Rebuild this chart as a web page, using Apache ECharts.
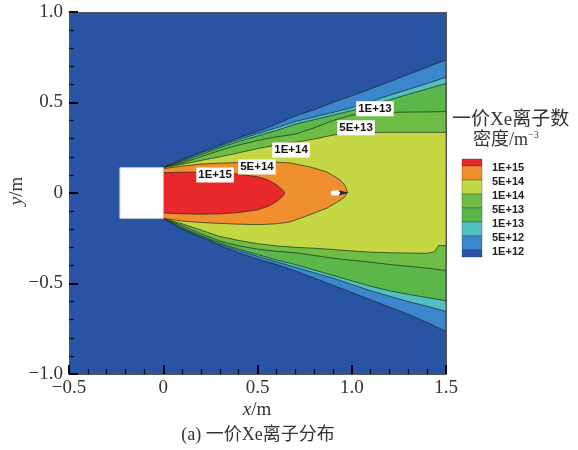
<!DOCTYPE html>
<html><head><meta charset="utf-8">
<script src="https://cdn.jsdelivr.net/npm/echarts@6/dist/echarts.min.js"></script>
<style>html,body{margin:0;padding:0;background:#fff;}#c{width:578px;height:450px;}</style>
</head><body><div id="c"></div>
<script>
// ---- axes ----
const xRange = [-0.5, 1.5];
const yRange = [-1.0, 1.0];
const tickStep = 0.5;

// ---- legend (contour levels) ----
const levelLabels = ['1E+15','5E+14','1E+14','5E+13','1E+13','5E+12','1E+12'];
const bandColors = ['#e8282a','#ef8f2e','#c3d842','#6dbd46','#5bb74a','#52c0c2','#3b86cd','#2953a3'];

// ---- contour boundaries [x (m), y (m)] ----
const outerUpper = [[0,0.14],[0.1,0.185],[0.2,0.226],[0.3,0.265],[0.4,0.305],[0.5,0.34],[0.6,0.38],[0.7,0.425],[0.8,0.46],[0.9,0.5],[1.0,0.537],[1.1,0.575],[1.2,0.615],[1.3,0.655],[1.4,0.695],[1.5,0.735]];
const lbTealUpper = [[0,0.14],[0.1,0.179],[0.2,0.22],[0.3,0.258],[0.4,0.295],[0.5,0.328],[0.6,0.36],[0.7,0.395],[0.8,0.42],[0.9,0.445],[1.0,0.472],[1.1,0.505],[1.2,0.54],[1.3,0.572],[1.4,0.605],[1.5,0.64]];
const tealGreenUpper = [[0,0.14],[0.1,0.174],[0.2,0.212],[0.3,0.25],[0.4,0.285],[0.5,0.315],[0.6,0.345],[0.7,0.38],[0.8,0.405],[0.9,0.43],[1.0,0.455],[1.1,0.485],[1.2,0.515],[1.3,0.545],[1.4,0.575],[1.5,0.605]];
const greenLineUpper = [[0,0.14],[0.1,0.166],[0.2,0.2],[0.3,0.235],[0.4,0.265],[0.5,0.29],[0.6,0.31],[0.7,0.325],[0.8,0.36],[0.9,0.4],[1.0,0.43],[1.1,0.44],[1.2,0.445],[1.3,0.447],[1.4,0.448],[1.5,0.45]];
const ygUpper = [[0,0.14],[0.1,0.158],[0.2,0.18],[0.3,0.2],[0.4,0.222],[0.5,0.245],[0.6,0.265],[0.7,0.28],[0.8,0.298],[0.9,0.32],[1.0,0.332],[1.1,0.334],[1.2,0.335],[1.3,0.335],[1.4,0.335],[1.5,0.335]];

const ygLower = [[0,-0.14],[0.1,-0.17],[0.2,-0.205],[0.3,-0.24],[0.4,-0.262],[0.5,-0.28],[0.6,-0.292],[0.7,-0.3],[0.8,-0.305],[0.9,-0.312],[1.0,-0.32],[1.1,-0.327],[1.2,-0.33],[1.3,-0.332],[1.4,-0.333],[1.44,-0.325],[1.46,-0.29],[1.5,-0.29]];
const greenLineLower = [[0,-0.14],[0.1,-0.18],[0.2,-0.225],[0.3,-0.265],[0.4,-0.292],[0.5,-0.31],[0.6,-0.322],[0.7,-0.33],[0.8,-0.345],[0.9,-0.36],[1.0,-0.372],[1.1,-0.382],[1.2,-0.395],[1.3,-0.405],[1.4,-0.415],[1.5,-0.428]];
const tealGreenLower = [[0,-0.14],[0.1,-0.19],[0.2,-0.235],[0.3,-0.275],[0.4,-0.31],[0.5,-0.34],[0.6,-0.37],[0.7,-0.395],[0.8,-0.425],[0.9,-0.455],[1.0,-0.485],[1.1,-0.515],[1.2,-0.54],[1.3,-0.56],[1.4,-0.578],[1.5,-0.595]];
const lbTealLower = [[0,-0.14],[0.1,-0.195],[0.2,-0.24],[0.3,-0.282],[0.4,-0.318],[0.5,-0.35],[0.6,-0.38],[0.7,-0.41],[0.8,-0.44],[0.9,-0.47],[1.0,-0.505],[1.1,-0.54],[1.2,-0.57],[1.3,-0.6],[1.4,-0.625],[1.5,-0.655]];
const outerLower = [[0,-0.14],[0.1,-0.2],[0.2,-0.245],[0.3,-0.29],[0.4,-0.33],[0.5,-0.365],[0.6,-0.395],[0.7,-0.43],[0.8,-0.47],[0.9,-0.51],[1.0,-0.55],[1.1,-0.59],[1.2,-0.63],[1.3,-0.67],[1.4,-0.715],[1.5,-0.765]];

const orangeOutline = [[0,0.135],[0.1,0.148],[0.2,0.16],[0.3,0.165],[0.4,0.168],[0.5,0.17],[0.6,0.17],[0.672,0.166],[0.778,0.144],[0.869,0.116],[0.938,0.072],[0.964,0.043],[0.977,0.005],[0.965,-0.02],[0.938,-0.04],[0.869,-0.083],[0.778,-0.12],[0.672,-0.16],[0.6,-0.17],[0.5,-0.175],[0.4,-0.172],[0.3,-0.168],[0.2,-0.163],[0.1,-0.155],[0,-0.14]];
const redOutline = [[0,0.112],[0.1,0.115],[0.2,0.115],[0.3,0.112],[0.4,0.104],[0.5,0.09],[0.56,0.07],[0.6,0.046],[0.63,0.02],[0.645,0],[0.63,-0.022],[0.6,-0.048],[0.56,-0.072],[0.5,-0.093],[0.4,-0.108],[0.3,-0.115],[0.2,-0.117],[0.1,-0.115],[0,-0.11]];
const spotWhite = [[0.893,0.012],[0.93,0.015],[0.94,0],[0.93,-0.015],[0.893,-0.012],[0.888,0]];
const spotDark = [[0.93,0.015],[0.95,0.01],[0.985,0.002],[0.95,-0.008],[0.93,-0.015],[0.94,0]];

const thrusterX = [-0.23, 0];
const thrusterY = [-0.14, 0.14];

// ---- contour labels ----
const contourLabelX = [0.275, 0.497, 0.678, 1.023, 1.123];
const contourLabelY = [0.10, 0.144, 0.238, 0.36, 0.465];
const contourLabelText = ['1E+15','5E+14','1E+14','5E+13','1E+13'];

// ---- build ----
const band = (up, low) => up.concat(low.slice().reverse());
const regions = [
  {pts: band(outerUpper, outerLower), color: bandColors[6]},
  {pts: band(lbTealUpper, lbTealLower), color: bandColors[5]},
  {pts: band(tealGreenUpper, tealGreenLower), color: bandColors[4]},
  {pts: band(greenLineUpper, greenLineLower), color: bandColors[3]},
  {pts: band(ygUpper, ygLower), color: bandColors[2]},
  {pts: orangeOutline, color: bandColors[1]},
  {pts: redOutline, color: bandColors[0]},
  {pts: spotWhite, color: '#ffffff', stroke: 'rgba(0,0,0,0)'},
  {pts: spotDark, color: '#1a2540', stroke: 'rgba(0,0,0,0)'}
];
const thrusterPts = [[thrusterX[0],thrusterY[1]],[thrusterX[1],thrusterY[1]],[thrusterX[1],thrusterY[0]],[thrusterX[0],thrusterY[0]]];

const series = regions.map((r, i) => ({
  type: 'custom', coordinateSystem: 'cartesian2d', silent: true, z: 2 + i * 0.01,
  data: [r.pts[0]],
  renderItem: (params, api) => ({
    type: 'polygon',
    shape: {points: r.pts.map(p => api.coord(p))},
    style: {fill: r.color, stroke: r.stroke || 'rgba(25,35,25,0.85)', lineWidth: 0.8}
  })
}));
series.push({
  type: 'custom', coordinateSystem: 'cartesian2d', silent: true, z: 3,
  data: [thrusterPts[0]],
  renderItem: (params, api) => ({
    type: 'polygon',
    shape: {points: thrusterPts.map(p => api.coord(p))},
    style: {fill: '#ffffff', stroke: '#cfcfcf', lineWidth: 1}
  })
});
series.push({
  type: 'custom', coordinateSystem: 'cartesian2d', silent: true, z: 4,
  data: contourLabelX.map((x, i) => [x, contourLabelY[i], i]),
  renderItem: (params, api) => {
    const c = api.coord([api.value(0), api.value(1)]);
    return {
      type: 'text', x: c[0], y: c[1],
      style: {
        text: contourLabelText[api.value(2)],
        fontFamily: 'Liberation Sans', fontWeight: 'bold', fontSize: 11.5, fill: '#111',
        backgroundColor: '#ffffff', padding: [2, 2, 1, 2],
        align: 'center', verticalAlign: 'middle'
      }
    };
  }
});

const fmt = v => (Math.abs(v) < 1e-9 ? '0' : (v < 0 ? '\u2212' : '') + Math.abs(v).toFixed(1));
const lblStyle = {fontFamily: 'Liberation Serif', fontSize: 19, color: '#333', formatter: fmt};
const axisBase = (extra) => Object.assign({
  type: 'value', interval: tickStep, z: 10,
  axisLine: {show: true, onZero: false, lineStyle: {color: '#555', width: 1}},
  axisTick: {show: true, inside: true, length: 9, lineStyle: {color: '#000', width: 2}},
  minorTick: {show: true, splitNumber: 5, length: 5, lineStyle: {color: '#0a0a1a', width: 1.3}},
  splitLine: {show: false}, minorSplitLine: {show: false}
}, extra);
const hiddenAxis = (extra) => Object.assign({
  type: 'value', interval: tickStep, z: 10,
  axisLine: {show: true, onZero: false, lineStyle: {color: '#555', width: 1}},
  axisTick: {show: false}, minorTick: {show: false}, axisLabel: {show: false}, splitLine: {show: false}
}, extra);

// legend graphics
const serif = "'Liberation Serif','Noto Sans CJK SC'";
const graphics = [];
const barX = 462, barW = 20, barTop = 159;
const bandH = [7,14,14,14,14,14,14,7];
let yy = barTop;
bandH.forEach((h, i) => {
  graphics.push({type: 'rect', shape: {x: barX, y: yy, width: barW, height: h},
    style: {fill: bandColors[i], stroke: 'rgba(30,40,30,0.6)', lineWidth: 0.5}});
  if (i < levelLabels.length) {
    graphics.push({type: 'text', x: 492, y: yy + h + 2,
      style: {text: levelLabels[i], fontFamily: 'Liberation Sans', fontWeight: 'bold', fontSize: 11,
        fill: '#222', textAlign: 'left', textVerticalAlign: 'middle'}});
  }
  yy += h;
});
graphics.push({type: 'text', x: 452, y: 120, style: {text: '一价Xe离子数', fontFamily: serif, fontSize: 19, fill: '#333', textAlign: 'left', textVerticalAlign: 'middle'}});
graphics.push({type: 'text', x: 473, y: 140, style: {text: '密度/m{s|−3}', fontFamily: serif, fontSize: 18, fill: '#333', textAlign: 'left', textVerticalAlign: 'middle',
  rich: {s: {fontFamily: serif, fontSize: 10, fill: '#333', verticalAlign: 'top', padding: [0,0,10,0]}}}});
graphics.push({type: 'text', x: 257, y: 410, style: {text: '{i|x}/m', fontFamily: serif, fontSize: 19, fill: '#333', textAlign: 'center', textVerticalAlign: 'middle',
  rich: {i: {fontFamily: serif, fontSize: 19, fontStyle: 'italic', fill: '#333'}}}});
graphics.push({type: 'text', x: 17, y: 191, rotation: Math.PI / 2, style: {text: '{i|y}/m', fontFamily: serif, fontSize: 19, fill: '#333', textAlign: 'center', textVerticalAlign: 'middle',
  rich: {i: {fontFamily: serif, fontSize: 19, fontStyle: 'italic', fill: '#333'}}}});
graphics.push({type: 'text', x: 258, y: 435, style: {text: '(a) 一价Xe离子分布', fontFamily: serif, fontSize: 18, fill: '#333', textAlign: 'center', textVerticalAlign: 'middle'}});

const chart = echarts.init(document.getElementById('c'), null, {renderer: 'canvas'});
chart.setOption({
  animation: false,
  backgroundColor: '#ffffff',
  grid: {left: 69, right: 132, top: 12, bottom: 76, show: true, backgroundColor: bandColors[7], borderWidth: 0, outerBoundsMode: 'none', containLabel: false},
  xAxis: [
    axisBase({min: xRange[0], max: xRange[1], position: 'bottom', axisLabel: Object.assign({margin: 5}, lblStyle)}),
    hiddenAxis({min: xRange[0], max: xRange[1], position: 'top'})
  ],
  yAxis: [
    axisBase({min: yRange[0], max: yRange[1], position: 'left', axisLabel: Object.assign({margin: 6}, lblStyle)}),
    hiddenAxis({min: yRange[0], max: yRange[1], position: 'right'})
  ],
  series: series,
  graphic: graphics
});
</script></body></html>
